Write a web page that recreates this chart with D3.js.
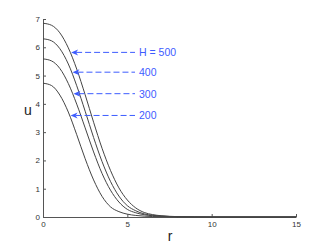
<!DOCTYPE html>
<html>
<head>
<meta charset="utf-8">
<script src="https://cdn.jsdelivr.net/npm/d3@7"></script>
<style>
  body { margin: 0; background: #fff; }
  svg { display: block; font-family: "Liberation Sans", Arial, sans-serif; }
</style>
</head>
<body>
<div class="plot"></div>
<script>
// radius values (shared by every curve)
const rValues = [0, 0.5, 1, 1.5, 2, 2.5, 3, 3.5, 4, 4.5, 5, 5.5, 6, 6.5, 7, 7.5, 8, 9, 10, 15];

// u(r), one array per H
const u200 = [4.73, 4.65, 4.31, 3.71, 2.91, 2.06, 1.31, 0.73, 0.36, 0.19, 0.10, 0.055, 0.03, 0.017, 0.01, 0.006, 0.003, 0.001, 0, 0];
const u300 = [5.59, 5.52, 5.25, 4.72, 3.99, 3.15, 2.30, 1.54, 0.95, 0.53, 0.27, 0.15, 0.08, 0.045, 0.025, 0.014, 0.007, 0.002, 0, 0];
const u400 = [6.30, 6.23, 5.95, 5.41, 4.64, 3.74, 2.81, 1.96, 1.26, 0.74, 0.40, 0.22, 0.11, 0.06, 0.033, 0.018, 0.01, 0.003, 0, 0];
const u500 = [6.85, 6.78, 6.51, 5.98, 5.23, 4.32, 3.35, 2.43, 1.65, 1.03, 0.60, 0.32, 0.16, 0.085, 0.045, 0.024, 0.013, 0.004, 0, 0];

// annotations: label text and the u level where each arrow hits its curve
const labels = ["H = 500", "400", "300", "200"];
const labelU = [5.82, 5.12, 4.36, 3.59];
const labelCurve = [u500, u400, u300, u200];

const xTicks = [0, 5, 10, 15];
const yTicks = [0, 1, 2, 3, 4, 5, 6, 7];

const W = 327, H = 245;
const margin = {top: 19, right: 31, bottom: 28, left: 43};

const svg = d3.select(".plot")
    .append("svg")
        .attr("width", W)
        .attr("height", H);

const x = d3.scaleLinear().domain([0, 15]).range([margin.left, W - margin.right]);
const y = d3.scaleLinear().domain([0, 7]).range([H - margin.bottom, margin.top]);

// axes (only left and bottom, ticks point inward)
const xAxis = svg.append("g")
    .attr("transform", "translate(0," + y(0) + ")")
    .call(d3.axisBottom(x).tickValues(xTicks).tickFormat(d3.format("d"))
        .tickSizeInner(-3).tickSizeOuter(0).tickPadding(4));
const yAxis = svg.append("g")
    .attr("transform", "translate(" + x(0) + ",0)")
    .call(d3.axisLeft(y).tickValues(yTicks).tickFormat(d3.format("d"))
        .tickSizeInner(-3).tickSizeOuter(0).tickPadding(3));

[xAxis, yAxis].forEach(function(g) {
    g.select(".domain").attr("stroke", "#555").attr("stroke-width", 1);
    g.selectAll(".tick line").attr("stroke", "#555");
    g.selectAll("text").attr("fill", "#333").style("font-size", "8px");
});

// curves
const line = d3.line()
    .x((d, i) => x(rValues[i]))
    .y(d => y(d))
    .curve(d3.curveMonotoneX);

svg.selectAll(".curve")
    .data([u200, u300, u400, u500])
    .enter()
    .append("path")
        .attr("class", "curve")
        .attr("d", line)
        .attr("fill", "none")
        .attr("stroke", "#444")
        .attr("stroke-width", 1);

// find r where a curve falls to level u (linear between samples)
const crossing = function(curve, u) {
    for (let i = 0; i < curve.length - 1; i++) {
        if (curve[i] >= u && curve[i + 1] < u) {
            const t = (curve[i] - u) / (curve[i] - curve[i + 1]);
            return rValues[i] + t * (rValues[i + 1] - rValues[i]);
        }
    }
    return 0;
};

// blue dashed arrows with labels
const blue = "#3d5cff";
const arrowEnd = 135;
labels.forEach(function(txt, i) {
    const tipX = x(crossing(labelCurve[i], labelU[i])) + 1;
    const ly = y(labelU[i]);
    svg.append("line")
        .attr("x1", tipX + 5)
        .attr("x2", arrowEnd)
        .attr("y1", ly)
        .attr("y2", ly)
        .attr("stroke", blue)
        .attr("stroke-width", 1)
        .attr("stroke-dasharray", "6,3");
    svg.append("path")
        .attr("d", "M" + tipX + "," + ly + "L" + (tipX + 7) + "," + (ly - 3) +
            "L" + (tipX + 5) + "," + ly + "L" + (tipX + 7) + "," + (ly + 3) + "Z")
        .attr("fill", blue);
    svg.append("text")
        .attr("x", 139)
        .attr("y", ly + 4)
        .attr("fill", blue)
        .style("font-size", "10.5px")
        .text(txt);
});

// axis titles
svg.append("text")
    .attr("x", 28)
    .attr("y", 115)
    .attr("text-anchor", "middle")
    .attr("fill", "#222")
    .style("font-size", "14px")
    .text("u");
svg.append("text")
    .attr("x", 170)
    .attr("y", 241)
    .attr("text-anchor", "middle")
    .attr("fill", "#222")
    .style("font-size", "14px")
    .text("r");
</script>
</body>
</html>
